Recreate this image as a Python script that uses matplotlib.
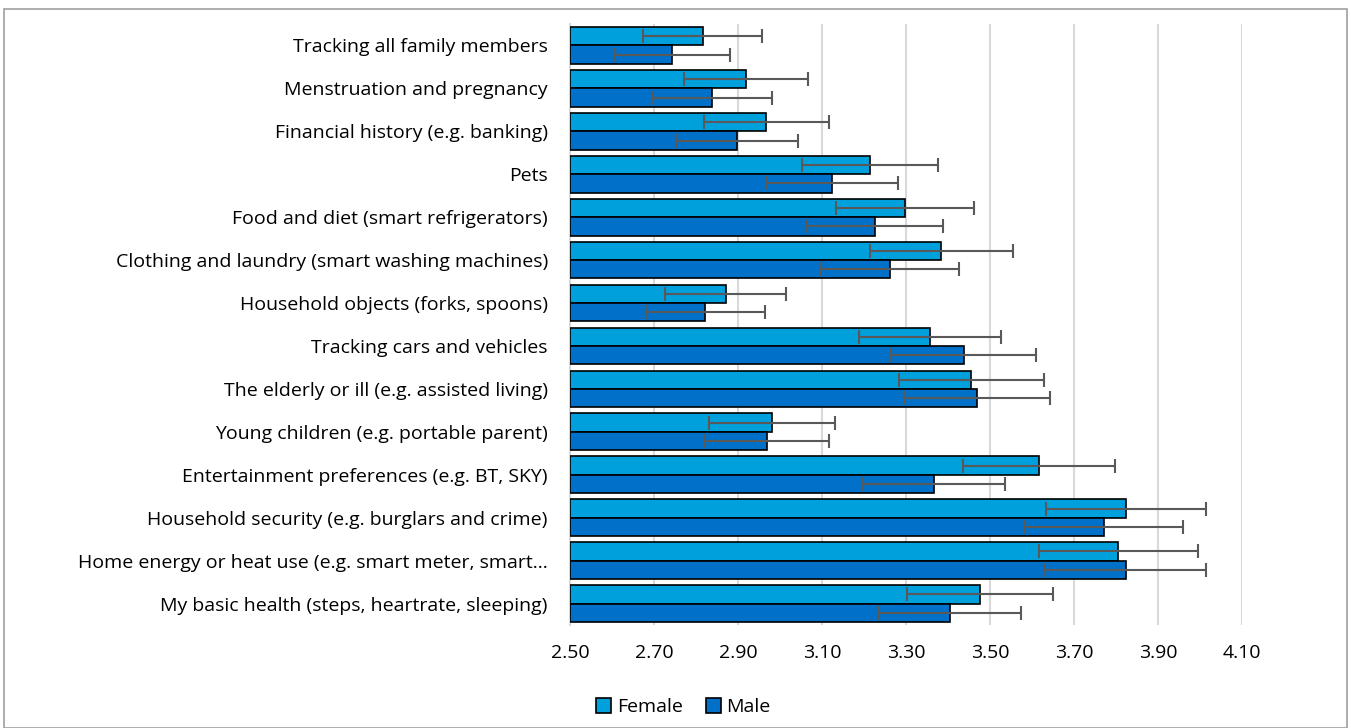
import matplotlib.pyplot as plt
from matplotlib.patches import Rectangle
import numpy as np

categories = [
    'Tracking all family members',
    'Menstruation and pregnancy',
    'Financial history (e.g. banking)',
    'Pets',
    'Food and diet (smart refrigerators)',
    'Clothing and laundry (smart washing machines)',
    'Household objects (forks, spoons)',
    'Tracking cars and vehicles',
    'The elderly or ill (e.g. assisted living)',
    'Young children (e.g. portable parent)',
    'Entertainment preferences (e.g. BT, SKY)',
    'Household security (e.g. burglars and crime)',
    'Home energy or heat use (e.g. smart meter, smart\u2026',
    'My basic health (steps, heartrate, sleeping)',
]
female = [2.816, 2.919, 2.967, 3.215, 3.298, 3.384, 2.871, 3.357, 3.456, 2.982, 3.617, 3.824, 3.806, 3.477]
female_err = [0.142, 0.147, 0.149, 0.162, 0.165, 0.170, 0.144, 0.169, 0.173, 0.150, 0.181, 0.191, 0.190, 0.174]
male = [2.743, 2.838, 2.898, 3.124, 3.226, 3.262, 2.822, 3.437, 3.469, 2.968, 3.367, 3.771, 3.823, 3.404]
male_err = [0.138, 0.143, 0.146, 0.157, 0.163, 0.164, 0.142, 0.173, 0.174, 0.148, 0.169, 0.189, 0.191, 0.170]
ticks = [2.50, 2.70, 2.90, 3.10, 3.30, 3.50, 3.70, 3.90, 4.10]

font = ['Open Sans', 'DejaVu Sans']
plt.rcParams['font.family'] = font

fig = plt.figure(figsize=(13.51, 7.28), dpi=100)
fig.patches.append(Rectangle((0.003, 0.0), 0.994, 0.988, transform=fig.transFigure,
                             fill=False, edgecolor='#a0a0a0', linewidth=1.2))
ax = fig.add_axes([0.4219, 0.1415, 0.4974, 0.8255])

y = np.arange(len(categories))
h = 0.427
base = 2.5
err_kw = dict(ecolor='#595959', elinewidth=1.5, capsize=5, capthick=1.5)
ax.barh(y - h / 2, np.array(female) - base, height=h, left=base, color='#00a0dc',
        edgecolor='black', linewidth=1.2, xerr=female_err, error_kw=err_kw, label='Female', zorder=3)
ax.barh(y + h / 2, np.array(male) - base, height=h, left=base, color='#0070c8',
        edgecolor='black', linewidth=1.2, xerr=male_err, error_kw=err_kw, label='Male', zorder=3)

ax.set_xlim(2.5, 4.1)
ax.set_ylim(len(categories) - 0.5, -0.5)
ax.set_xticks(ticks)
ax.set_xticklabels(['%.2f' % t for t in ticks], fontsize=14)
ax.set_yticks(y)
ax.set_yticklabels(categories, fontsize=14)
ax.tick_params(length=0, pad=16)
ax.tick_params(axis='x', pad=14)
ax.grid(axis='x', color='#d9d9d9', linewidth=1.5, zorder=0)
for s in ['top', 'right', 'bottom']:
    ax.spines[s].set_visible(False)
ax.spines['left'].set_color('#d9d9d9')
ax.spines['left'].set_linewidth(1.5)

fig.legend(loc='lower center', bbox_to_anchor=(0.506, -0.008), ncol=2, frameon=False, fontsize=14,
           handlelength=0.75, handleheight=0.75, handletextpad=0.3, columnspacing=1.2)

fig.savefig('out.png', dpi=100)
